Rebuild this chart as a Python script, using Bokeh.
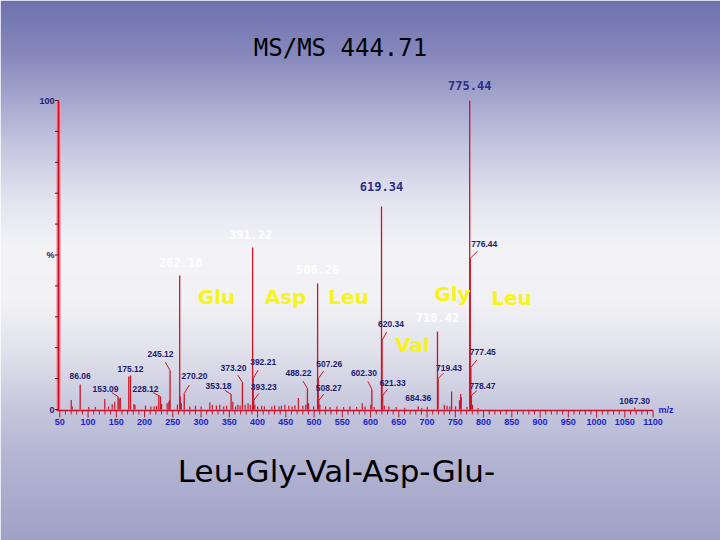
import numpy as np
from bokeh.plotting import figure
from bokeh.models import Range1d
from bokeh.core.properties import value
from bokeh.embed import file_html
from bokeh.resources import INLINE

# ---------------- data ----------------
title_text = "MS/MS 444.71"
sequence_text = "Leu-Gly-Val-Asp-Glu-"

# main (labelled / sequence) peaks: m/z and relative intensity (%)
peak_mz = [86.06, 153.09, 172.10, 175.12, 228.12, 245.12, 262.18, 270.20, 353.18,
           373.20, 391.22, 392.21, 393.23, 488.22, 506.26, 507.26, 508.27, 602.30,
           619.34, 620.34, 621.33, 684.36, 718.42, 719.43, 775.44, 776.44, 777.45,
           778.47, 1067.30]
peak_int = [8.1, 4.2, 10.7, 11.0, 4.2, 12.6, 43.4, 5.2, 4.9,
            8.7, 52.4, 10.0, 2.9, 6.8, 40.8, 10.0, 2.9, 6.5,
            65.7, 22.3, 4.5, 1.0, 25.2, 10.0, 100.0, 48.9, 13.6,
            4.5, 0.6]

# minor (unlabelled) peaks
minor_mz = [70.2, 72.1, 101.1, 113.0, 129.6, 136.1, 142.7, 147.3, 155.1, 157.1,
            181.1, 183.1, 201.7, 211.1, 217.1, 221.1, 225.1, 230.1, 240.1, 243.1,
            244.1, 258.1, 263.2, 265.1, 280.1, 290.1, 300.1, 315.5, 320.1, 327.1,
            333.1, 340.1, 345.1, 356.2, 361.1, 365.1, 369.1, 378.1, 383.2, 387.1,
            395.2, 400.1, 407.2, 412.1, 425.2, 430.2, 438.2, 442.2, 448.2, 455.2,
            461.2, 466.2, 472.2, 480.2, 485.2, 490.2, 499.2, 510.3, 520.3, 528.3,
            540.3, 552.3, 563.3, 575.3, 585.3, 590.3, 600.3, 606.3, 624.3, 632.3,
            645.3, 660.3, 690.4, 700.4, 730.4, 735.4, 740.4, 743.4, 750.4, 757.4,
            759.4, 760.4, 770.4, 780.4, 790.4]
minor_int = [3.1, 1.0, 0.8, 0.8, 3.4, 1.0, 1.7, 2.5, 3.5, 3.8,
             1.8, 1.5, 1.3, 1.0, 1.0, 1.2, 4.5, 1.8, 2.0, 2.5,
             3.0, 1.5, 4.3, 2.0, 1.0, 1.2, 1.0, 2.3, 1.5, 1.3,
             1.5, 1.0, 1.2, 2.5, 1.0, 1.5, 1.3, 1.5, 2.0, 1.5,
             1.5, 1.0, 1.2, 1.0, 1.0, 1.3, 1.0, 1.2, 1.5, 1.2,
             1.0, 1.3, 3.7, 1.2, 1.5, 2.0, 1.0, 1.5, 1.0, 0.8,
             1.0, 0.8, 1.0, 0.8, 2.0, 1.0, 1.5, 0.8, 1.2, 1.0,
             0.8, 0.6, 0.5, 0.8, 1.5, 1.2, 1.0, 5.8, 1.0, 3.0,
             5.0, 4.0, 0.8, 1.5, 0.5]

# small navy labels with leader lines
small_label_mz = [86.06, 153.09, 175.12, 228.12, 245.12, 270.20, 353.18, 373.20,
                  392.21, 393.23, 488.22, 507.26, 508.27, 602.30, 620.34, 621.33,
                  684.36, 719.43, 776.44, 777.45, 778.47, 1067.30]
# big labels
big_label_mz = [775.44, 619.34]
white_label_mz = [262.18, 391.22, 506.26, 718.42]

# residues between fragment ions (yellow annotations)
residue_names = ["Glu", "Asp", "Leu", "Gly", "Leu", "Val"]

x_ticks = list(range(50, 1101, 50))
x_minor_ticks = list(range(50, 1101, 10))
y_ticks = list(range(0, 101, 10))
y_tick_labels = {100: "100", 50: "%", 0: "0"}

# ---------------- styling / geometry ----------------
W, H = 720, 540
OFF = 0
SX = 593.3 / 1050.0          # px per m/z unit
SY = 3.09                    # px per %
X0 = 50 - (59.3 - OFF) / SX
Y0 = -(H - (409 - OFF)) / SY
X1 = X0 + W / SX
Y1 = Y0 + H / SY


def xd(xref):   # reference-image x pixel -> data
    return X0 + (xref - OFF) / SX


def yd(yref):   # reference-image y pixel -> data
    return Y0 + (H - (yref - OFF)) / SY


p = figure(width=W, height=H, output_backend="svg", toolbar_location=None,
           x_range=Range1d(X0, X1), y_range=Range1d(Y0, Y1), min_border=0)
p.axis.visible = False
p.grid.visible = False
p.outline_line_color = None
p.background_fill_color = None
p.border_fill_color = None

# gradient background
stops_y = [0, 50, 100, 150, 200, 250, 300, 350, 400, 450, 540]
stops_c = [(112, 114, 174), (132, 134, 188), (166, 168, 207), (200, 201, 226),
           (228, 228, 240), (244, 244, 248), (242, 242, 246), (226, 226, 236),
           (202, 203, 224), (182, 183, 212), (160, 162, 200)]
img = np.zeros((H, 1), dtype=np.uint32)
view = img.view(dtype=np.uint8).reshape((H, 1, 4))
for i in range(H):
    yref = OFF + H - (i + 0.5)
    for k in range(3):
        view[i, 0, k] = int(np.interp(yref, stops_y, [s[k] for s in stops_c]))
    view[i, 0, 3] = 255
p.image_rgba(image=[img], x=X0, y=Y0, dw=X1 - X0, dh=Y1 - Y0)

PEAK_COLOR = "#cc1426"
NAVY = "#1c1c6e"
BLUE = "#1a22c8"

# minor peaks
p.segment(x0=minor_mz, y0=[0] * len(minor_mz), x1=minor_mz, y1=minor_int,
          line_color=PEAK_COLOR, line_width=1.2)
# main peaks
p.segment(x0=peak_mz, y0=[0] * len(peak_mz), x1=peak_mz, y1=peak_int,
          line_color=PEAK_COLOR, line_width=1.3)

# y axis (red with glow)
yaxis_x = xd(58)
p.segment(x0=[yaxis_x], y0=[0], x1=[yaxis_x], y1=[100], line_color="#f4a0a8",
          line_width=5, line_alpha=0.7)
p.segment(x0=[yaxis_x], y0=[0], x1=[yaxis_x], y1=[100], line_color="#d0102a",
          line_width=2)
p.segment(x0=[xd(54.5)] * len(y_ticks), y0=y_ticks, x1=[yaxis_x] * len(y_ticks),
          y1=y_ticks, line_color="#601020", line_width=1)
p.text(x=[xd(54)] * len(y_tick_labels), y=list(y_tick_labels.keys()),
       text=list(y_tick_labels.values()), text_align="right", text_baseline="middle",
       text_font=value("Liberation Sans"), text_font_size="9px", text_font_style="bold",
       text_color=NAVY)

# x axis
axis_y = yd(410)
p.segment(x0=[xd(56)], y0=[axis_y], x1=[1100], y1=[axis_y], line_color="#c8102a", line_width=1.5)
minor_only = [t for t in x_minor_ticks if t % 50 != 0]
p.segment(x0=minor_only, y0=[axis_y] * len(minor_only), x1=minor_only,
          y1=[axis_y - 4 / SY] * len(minor_only), line_color="#c8102a", line_width=1)
p.segment(x0=x_ticks, y0=[axis_y] * len(x_ticks), x1=x_ticks,
          y1=[axis_y - 7 / SY] * len(x_ticks), line_color="#c8102a", line_width=1)
p.text(x=x_ticks, y=[yd(421.5)] * len(x_ticks), text=[str(t) for t in x_ticks],
       text_align="center", text_baseline="middle", text_font=value("Liberation Sans"),
       text_font_size="9px", text_font_style="bold", text_color=BLUE)
p.text(x=[xd(658)], y=[yd(409)], text=["m/z"], text_align="left", text_baseline="middle",
       text_font=value("Liberation Sans"), text_font_size="9px", text_font_style="bold",
       text_color=BLUE)

# small labels with leaders
lookup = dict(zip(peak_mz, peak_int))
label_offsets = {  # screen px offset (dx right, dy down) from peak top to label centre
    86.06: (0, -8), 153.09: (-12.6, -8), 175.12: (0, -7), 228.12: (-15, -8),
    245.12: (-9.5, -17), 270.20: (10.3, -17), 353.18: (-12.6, -8), 373.20: (-9, -15),
    392.21: (10, -17), 393.23: (10, -14), 488.22: (-9, -15), 507.26: (11, -15),
    508.27: (10, -13), 602.30: (-8, -16), 620.34: (9, -17), 621.33: (10, -13),
    684.36: (0, -8), 719.43: (11, -11), 776.44: (14, -14), 777.45: (12, -15),
    778.47: (11, -10), 1067.30: (0, -7),
}
lx, ly, lt, sx0, sy0, sx1, sy1 = [], [], [], [], [], [], []
for m in small_label_mz:
    h = lookup[m]
    dx, dy = label_offsets[m]
    lx.append(m + dx / SX)
    ly.append(h - dy / SY)
    lt.append(f"{m:.2f}")
    if abs(dx) > 3:
        sx0.append(m); sy0.append(h)
        sx1.append(m + 0.5 * dx / SX); sy1.append(h - 0.5 * dy / SY)
p.segment(x0=sx0, y0=sy0, x1=sx1, y1=sy1, line_color=PEAK_COLOR, line_width=1)
p.text(x=lx, y=ly, text=lt, text_align="center", text_baseline="middle",
       text_font=value("Liberation Sans"), text_font_size="8.5px", text_font_style="bold",
       text_color=NAVY)

# big bold labels
big_dy = {775.44: -15, 619.34: -20}
p.text(x=big_label_mz, y=[lookup[m] - big_dy[m] / SY for m in big_label_mz],
       text=[f"{m:.2f}" for m in big_label_mz], text_align="center", text_baseline="middle",
       text_font=value("DejaVu Sans Mono"), text_font_size="12px", text_font_style="bold",
       text_color="#2e2e86")

# white labels
white_off = {262.18: (1, -13), 391.22: (-2, -13), 506.26: (0, -14), 718.42: (0, -14)}
p.text(x=[m + white_off[m][0] / SX for m in white_label_mz],
       y=[lookup[m] - white_off[m][1] / SY for m in white_label_mz],
       text=[f"{m:.2f}" for m in white_label_mz], text_align="center", text_baseline="middle",
       text_font=value("DejaVu Sans Mono"), text_font_size="12px", text_font_style="bold",
       text_color="white")

# yellow residue annotations
res_pos = [(216, 296), (285, 296), (348, 296), (452, 293), (511, 297), (412, 344)]
p.text(x=[xd(a) for a, b in res_pos], y=[yd(b) for a, b in res_pos], text=residue_names,
       text_align="center", text_baseline="middle", text_font=value("DejaVu Sans"),
       text_font_size="20px", text_font_style="bold", text_color="#f6f41c")

# title & sequence
p.text(x=[xd(340)], y=[yd(47)], text=[title_text], text_align="center", text_baseline="middle",
       text_font=value("DejaVu Sans Mono"), text_font_size="24px", text_color="black")
p.text(x=[xd(336)], y=[yd(470)], text=[sequence_text], text_align="center",
       text_baseline="middle", text_font=value("DejaVu Sans"), text_font_size="31px",
       text_color="black")

open("out.html", "w").write(file_html(p, INLINE))
